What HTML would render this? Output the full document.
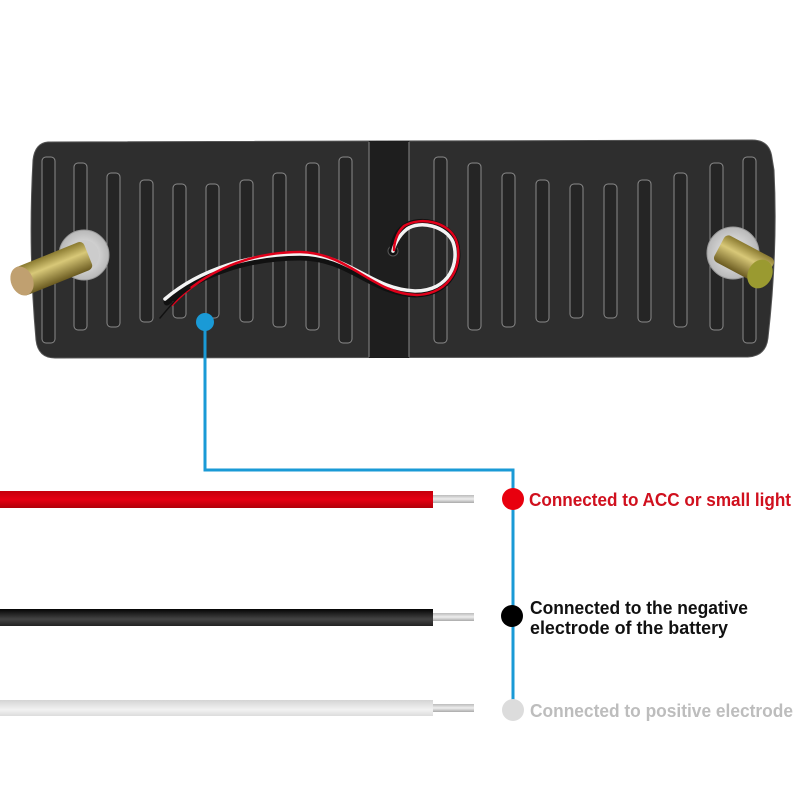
<!DOCTYPE html>
<html><head><meta charset="utf-8"><style>
html,body{margin:0;padding:0;background:#fff;width:800px;height:800px;overflow:hidden}
</style></head><body>
<svg width="800" height="800" viewBox="0 0 800 800" xmlns="http://www.w3.org/2000/svg">
<defs>
<linearGradient id="bolt" x1="0" y1="0" x2="0" y2="1">
<stop offset="0" stop-color="#8a7a30"/><stop offset="0.4" stop-color="#d8c878"/><stop offset="1" stop-color="#6a5a20"/>
</linearGradient>
<radialGradient id="nut"><stop offset="0" stop-color="#f4f4f4"/><stop offset="1" stop-color="#b8b8b8"/></radialGradient>
<linearGradient id="red" x1="0" y1="0" x2="0" y2="1"><stop offset="0" stop-color="#c4000c"/><stop offset="0.5" stop-color="#e60012"/><stop offset="1" stop-color="#b0000a"/></linearGradient>
<linearGradient id="blk" x1="0" y1="0" x2="0" y2="1"><stop offset="0" stop-color="#050505"/><stop offset="0.6" stop-color="#444"/><stop offset="1" stop-color="#222"/></linearGradient>
<linearGradient id="wht" x1="0" y1="0" x2="0" y2="1"><stop offset="0" stop-color="#d4d4d4"/><stop offset="0.6" stop-color="#f2f2f2"/><stop offset="1" stop-color="#dcdcdc"/></linearGradient>
<linearGradient id="cu" x1="0" y1="0" x2="0" y2="1"><stop offset="0" stop-color="#bbb"/><stop offset="0.5" stop-color="#eee"/><stop offset="1" stop-color="#aaa"/></linearGradient>
</defs>
<path d="M48,142 L752,140 Q770,140 772,158 L774,170 Q778,250 768,338 Q766,356 748,357 L55,358 Q38,358 36,340 Q28,250 33,160 Q35,143 48,142 Z" fill="#2e2e2e" stroke="#555" stroke-width="1"/>
<rect x="369" y="141" width="40" height="217" fill="#1e1e1e"/>
<line x1="369" y1="142" x2="369" y2="357" stroke="#777" stroke-width="1.2"/>
<line x1="409" y1="142" x2="409" y2="357" stroke="#777" stroke-width="1.2"/>
<g fill="#252525" stroke="#8a8a8a" stroke-width="1">
<rect x="42" y="157" width="13" height="186" rx="4"/>
<rect x="74" y="163" width="13" height="167" rx="4"/>
<rect x="107" y="173" width="13" height="154" rx="4"/>
<rect x="140" y="180" width="13" height="142" rx="4"/>
<rect x="173" y="184" width="13" height="134" rx="4"/>
<rect x="206" y="184" width="13" height="134" rx="4"/>
<rect x="240" y="180" width="13" height="142" rx="4"/>
<rect x="273" y="173" width="13" height="154" rx="4"/>
<rect x="306" y="163" width="13" height="167" rx="4"/>
<rect x="339" y="157" width="13" height="186" rx="4"/>
<rect x="434" y="157" width="13" height="186" rx="4"/>
<rect x="468" y="163" width="13" height="167" rx="4"/>
<rect x="502" y="173" width="13" height="154" rx="4"/>
<rect x="536" y="180" width="13" height="142" rx="4"/>
<rect x="570" y="184" width="13" height="134" rx="4"/>
<rect x="604" y="184" width="13" height="134" rx="4"/>
<rect x="638" y="180" width="13" height="142" rx="4"/>
<rect x="674" y="173" width="13" height="154" rx="4"/>
<rect x="710" y="163" width="13" height="167" rx="4"/>
<rect x="743" y="157" width="13" height="186" rx="4"/>
</g>
<circle cx="84" cy="255" r="25" fill="url(#nut)" stroke="#999"/>
<circle cx="84" cy="255" r="15" fill="#ccc"/>
<g transform="rotate(-22 84 255)"><rect x="12" y="241" width="76" height="30" rx="5" fill="url(#bolt)"/></g>
<ellipse cx="22" cy="281" rx="11" ry="15" fill="#c0a070" transform="rotate(-22 22 281)"/>
<circle cx="733" cy="253" r="26" fill="url(#nut)" stroke="#999"/>
<g transform="rotate(28 733 253)"><rect x="718" y="239" width="56" height="30" rx="5" fill="url(#bolt)"/></g>
<ellipse cx="760" cy="274" rx="12" ry="15" fill="#9a9a30" transform="rotate(28 760 274)"/>
<circle cx="393" cy="251" r="5" fill="#111" stroke="#555"/>
<g fill="none" stroke-linecap="round">
<path d="M167,302 C200,272 250,257 300,257 C350,257 370,292 415,294 C450,294 462,264 455,242 C448,224 420,217 405,227 C395,234 393,247 393,251" stroke="#111" stroke-width="7"/>
<path d="M165,299 C200,269 250,254 300,254 C350,254 370,289 415,291 C450,291 460,262 453,242 C446,226 420,220 407,229 C398,236 394,246 393,251" stroke="#f4f4f4" stroke-width="3.5"/>
<path d="M172,305 C205,270 252,252 300,252 C350,253 372,294 417,295 C452,294 464,262 456,240 C449,222 421,216 404,226 C396,233 394,245 394,250" stroke="#e0001a" stroke-width="2.5"/>
<path d="M160,318 C175,300 180,295 190,288" stroke="#111" stroke-width="1.5"/>
</g>
<polyline points="205,322 205,470 513,470 513,710" fill="none" stroke="#1a9ad6" stroke-width="3"/>
<circle cx="205" cy="322" r="9" fill="#1a9ad6"/>
<rect x="0" y="491" width="433" height="17" fill="url(#red)"/>
<rect x="433" y="495" width="41" height="8" fill="url(#cu)"/>
<rect x="0" y="609" width="433" height="17" fill="url(#blk)"/>
<rect x="433" y="613" width="41" height="8" fill="url(#cu)"/>
<rect x="0" y="700" width="433" height="16" fill="url(#wht)"/>
<rect x="433" y="704" width="41" height="8" fill="url(#cu)"/>
<circle cx="513" cy="499" r="11" fill="#e8000e"/>
<circle cx="512" cy="616" r="11" fill="#000"/>
<circle cx="513" cy="710" r="11" fill="#dcdcdc"/>
<g font-family="Liberation Sans, sans-serif" font-weight="bold" font-size="18" lengthAdjust="spacingAndGlyphs">
<text x="529" y="506" fill="#d0101e" textLength="262" lengthAdjust="spacingAndGlyphs">Connected to ACC or small light</text>
<text x="530" y="614" fill="#111" textLength="218" lengthAdjust="spacingAndGlyphs">Connected to the negative</text>
<text x="530" y="634" fill="#111" textLength="198" lengthAdjust="spacingAndGlyphs">electrode of the battery</text>
<text x="530" y="717" fill="#bdbdbd" textLength="263" lengthAdjust="spacingAndGlyphs">Connected to positive electrode</text>
</g>
</svg>
</body></html>
